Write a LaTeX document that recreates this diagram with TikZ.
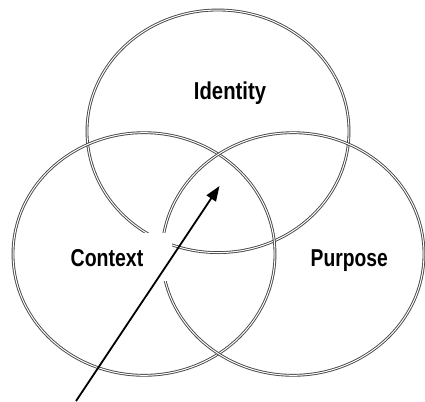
\documentclass[tikz,border=0pt]{standalone}
\usepackage{fontspec}
\setmainfont{Liberation Sans}
\usetikzlibrary{arrows.meta,shapes.geometric}
\begin{document}
\begin{tikzpicture}[x=1bp,y=-1bp,
  ring/.style={ellipse, draw=gray!55!black, line width=0.9bp, double=white,
    double distance=1bp, minimum width=262bp, minimum height=242.6bp, inner sep=0pt},
  lbl/.style={font=\fontsize{24.5}{28}\selectfont\bfseries, inner sep=0pt, anchor=base},
  cover/.style={fill=white, draw=none, inner sep=0pt},
  pointer/.style={draw=black, line width=1.8bp, -{Triangle[length=15bp,width=11bp]}}]
\useasboundingbox (0,0) rectangle (425,402);
\node[ring] (identity) at (218,131.3) {};
\node[ring] (context) at (144,254) {};
\node[ring] (purpose) at (293,254) {};
\node[cover, minimum width=129.5bp, minimum height=47.5bp] (ctxbox) at (106.75,256.75) {};
\coordinate (tail) at (76,401);
\coordinate (tip) at (219.5,186);
\draw[pointer] (tail) -- (tip);
\node[lbl] (tid) at (230,99) {\scalebox{0.83}[1]{Identity}};
\node[lbl] (tctx) at (107,266.7) {\scalebox{0.80}[1]{Context}};
\node[lbl] (tpur) at (349.3,266.7) {\scalebox{0.79}[1]{Purpose}};
\end{tikzpicture}
\end{document}
